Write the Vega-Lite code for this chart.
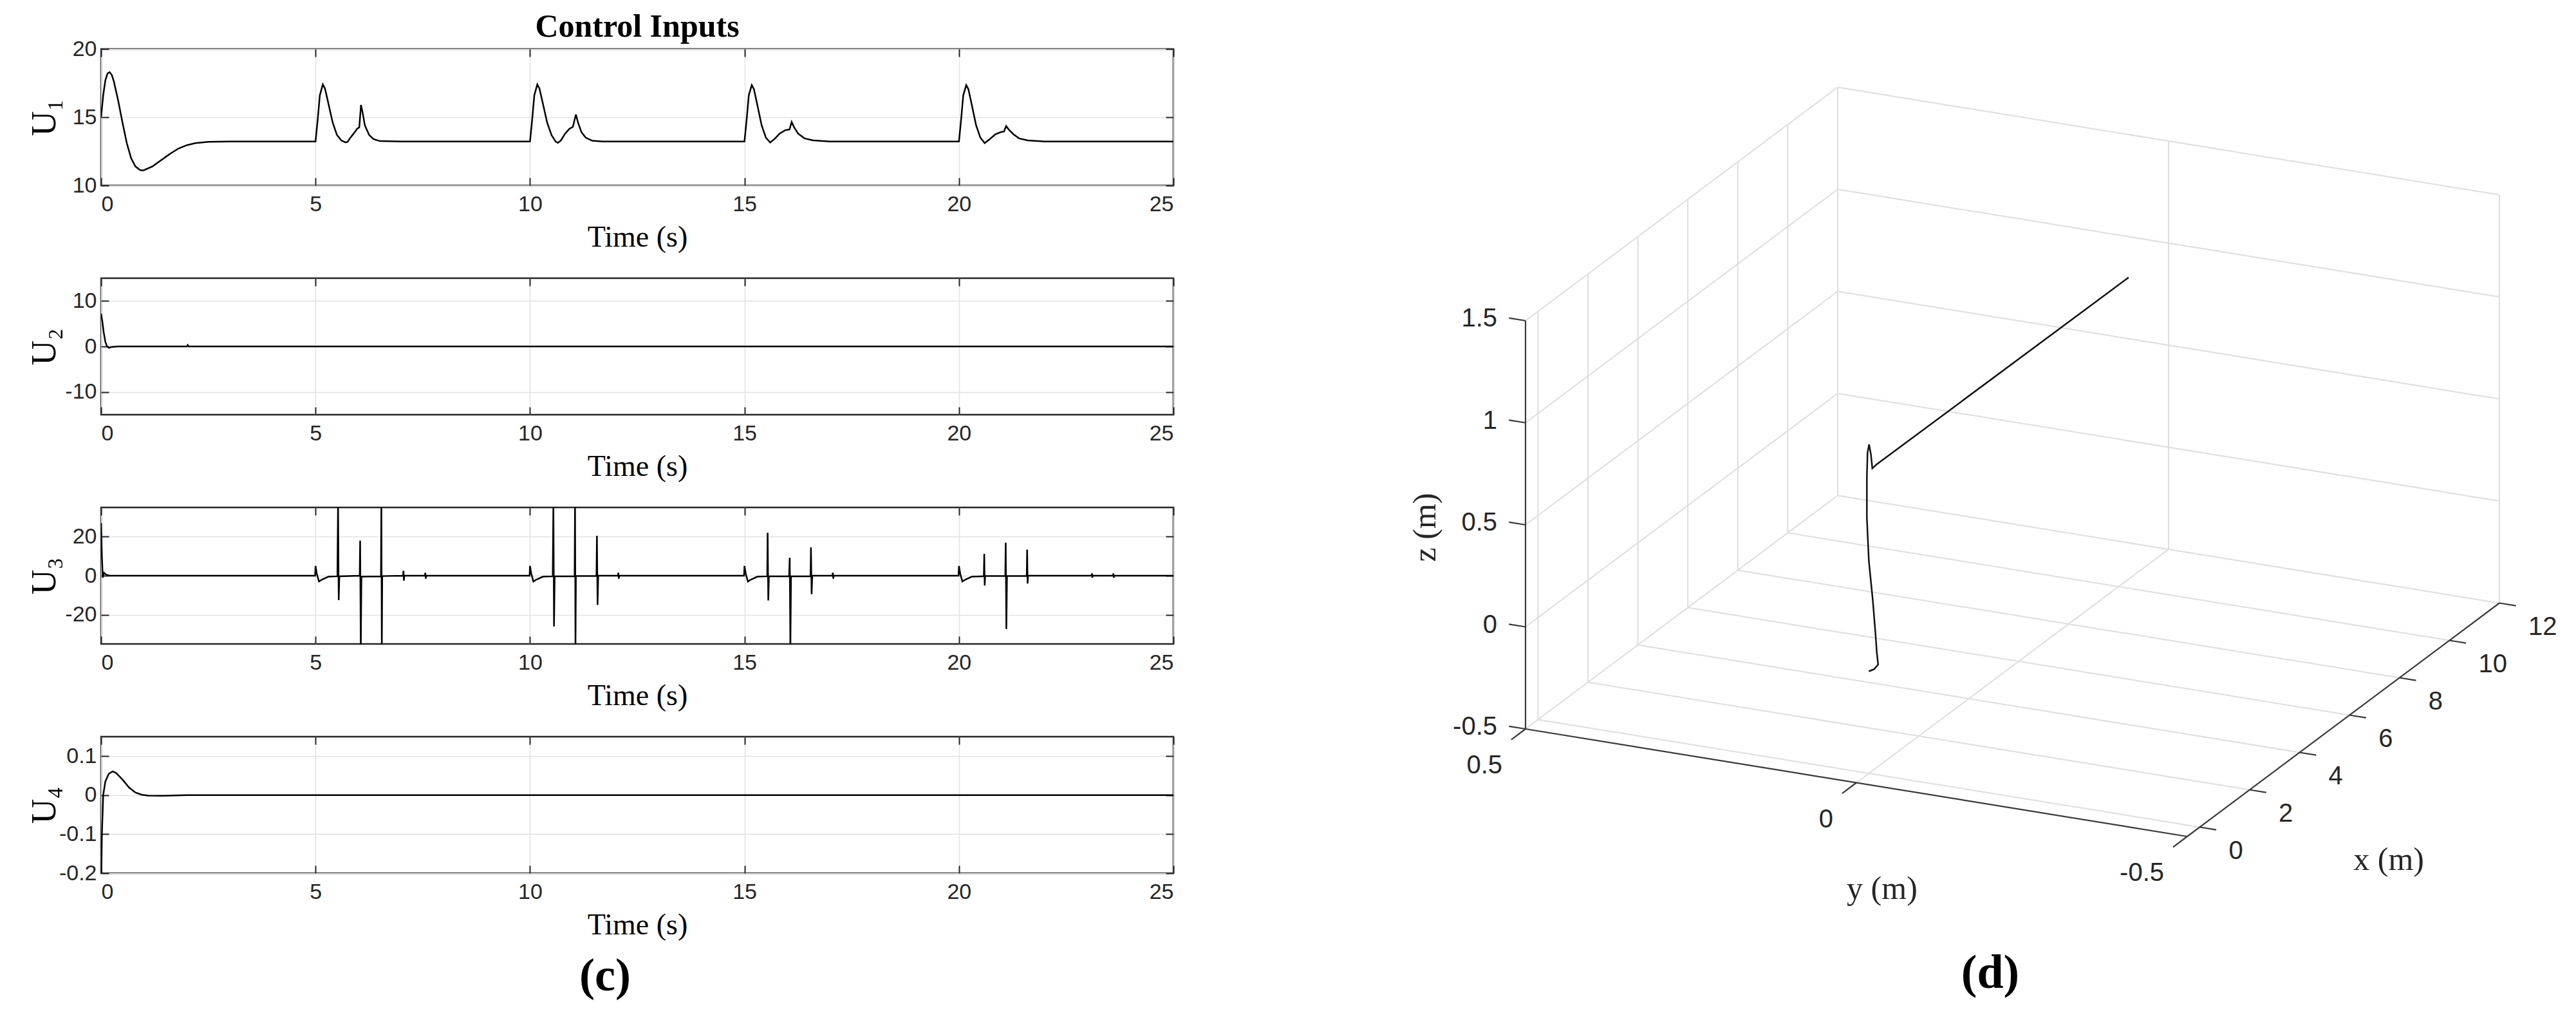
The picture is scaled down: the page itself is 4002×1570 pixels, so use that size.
{
  "$schema": "https://vega.github.io/schema/vega-lite/v6.json",
  "background": "white",
  "padding": {"left": 40, "top": 15, "right": 0, "bottom": 0},
  "config": {
    "font": "Liberation Sans",
    "view": {"stroke": "#262626", "strokeWidth": 2.5},
    "axis": {
      "domain": false,
      "labelFont": "Liberation Sans", "labelFontSize": 34, "labelColor": "#262626",
      "tickColor": "#262626", "tickSize": -12, "tickWidth": 2,
      "gridColor": "#e2e2e2", "gridWidth": 1.5,
      "titleFont": "Liberation Serif", "titleFontWeight": "normal", "titleColor": "#000000"
    },
    "axisX": {"labelPadding": 24, "titleFontSize": 46, "titlePadding": 12},
    "axisY": {"labelPadding": 19, "titleFontSize": 54, "titleX": -88, "titleY": 106, "titleBaseline": "middle", "labelExpr": "'' + datum.value"}
  },
  "datasets": {
    "u1": [
      {"t":0,"v":15.0},{"t":0.05,"v":16.6},{"t":0.1,"v":17.7},{"t":0.15,"v":18.2},{"t":0.2,"v":18.3},{"t":0.25,"v":18.1},{"t":0.3,"v":17.6},{"t":0.4,"v":16.2},{"t":0.5,"v":14.6},{"t":0.6,"v":13.1},{"t":0.7,"v":12.0},{"t":0.8,"v":11.4},{"t":0.9,"v":11.15},{"t":0.95,"v":11.1},{"t":1.0,"v":11.12},{"t":1.2,"v":11.4},{"t":1.4,"v":11.85},{"t":1.6,"v":12.3},{"t":1.8,"v":12.7},{"t":2.0,"v":12.95},{"t":2.2,"v":13.1},{"t":2.5,"v":13.2},{"t":3,"v":13.22},{"t":5,"v":13.22},
      {"t":5.05,"v":14.8},{"t":5.1,"v":16.6},{"t":5.17,"v":17.4},{"t":5.22,"v":17.1},{"t":5.3,"v":16.0},{"t":5.4,"v":14.6},{"t":5.5,"v":13.7},{"t":5.6,"v":13.3},{"t":5.7,"v":13.15},{"t":5.75,"v":13.2},{"t":5.8,"v":13.45},{"t":5.9,"v":13.85},{"t":5.97,"v":14.15},{"t":6.02,"v":14.25},{"t":6.06,"v":15.9},{"t":6.1,"v":15.3},{"t":6.15,"v":14.4},{"t":6.25,"v":13.7},{"t":6.35,"v":13.4},{"t":6.5,"v":13.25},{"t":7,"v":13.22},{"t":10,"v":13.22},
      {"t":10.05,"v":14.8},{"t":10.1,"v":16.6},{"t":10.17,"v":17.4},{"t":10.22,"v":17.1},{"t":10.3,"v":16.0},{"t":10.4,"v":14.6},{"t":10.5,"v":13.7},{"t":10.6,"v":13.2},{"t":10.65,"v":13.12},{"t":10.72,"v":13.3},{"t":10.82,"v":13.8},{"t":10.92,"v":14.15},{"t":11.0,"v":14.3},{"t":11.07,"v":15.2},{"t":11.12,"v":14.6},{"t":11.2,"v":13.9},{"t":11.3,"v":13.5},{"t":11.45,"v":13.28},{"t":11.7,"v":13.22},{"t":15,"v":13.22},
      {"t":15.05,"v":14.8},{"t":15.1,"v":16.6},{"t":15.17,"v":17.35},{"t":15.22,"v":17.05},{"t":15.3,"v":15.9},{"t":15.4,"v":14.4},{"t":15.5,"v":13.5},{"t":15.6,"v":13.15},{"t":15.7,"v":13.4},{"t":15.82,"v":13.8},{"t":15.95,"v":14.05},{"t":16.05,"v":14.1},{"t":16.1,"v":14.65},{"t":16.15,"v":14.3},{"t":16.25,"v":13.8},{"t":16.4,"v":13.45},{"t":16.6,"v":13.3},{"t":17,"v":13.22},{"t":20,"v":13.22},
      {"t":20.05,"v":14.8},{"t":20.1,"v":16.6},{"t":20.17,"v":17.35},{"t":20.22,"v":17.05},{"t":20.3,"v":15.9},{"t":20.4,"v":14.4},{"t":20.5,"v":13.5},{"t":20.6,"v":13.1},{"t":20.72,"v":13.4},{"t":20.85,"v":13.75},{"t":20.97,"v":13.9},{"t":21.05,"v":13.95},{"t":21.1,"v":14.35},{"t":21.16,"v":14.1},{"t":21.27,"v":13.75},{"t":21.4,"v":13.45},{"t":21.6,"v":13.3},{"t":22,"v":13.22},{"t":25,"v":13.22}
    ],
    "u2": [
      {"t":0,"v":7.2},{"t":0.03,"v":5.5},{"t":0.06,"v":3.2},{"t":0.1,"v":1.0},{"t":0.14,"v":0.0},{"t":0.18,"v":-0.3},{"t":0.25,"v":-0.1},{"t":0.4,"v":0},{"t":2.0,"v":0},{"t":2.02,"v":0.3},{"t":2.04,"v":0},{"t":25,"v":0}
    ],
    "u3": [
      {"t":0,"v":27},{"t":0.02,"v":10},{"t":0.04,"v":-1},{"t":0.07,"v":1.5},{"t":0.12,"v":0.5},{"t":0.2,"v":0},{"t":4.99,"v":0},
      {"t":5.0,"v":5},{"t":5.03,"v":1},{"t":5.08,"v":-3},{"t":5.15,"v":-2},{"t":5.3,"v":-0.5},{"t":5.51,"v":-0.3},{"t":5.525,"v":38},{"t":5.54,"v":-12.5},{"t":5.555,"v":-0.3},{"t":6.03,"v":0},{"t":6.04,"v":18},{"t":6.055,"v":-38},{"t":6.07,"v":-0.5},{"t":6.525,"v":-0.3},{"t":6.535,"v":38},{"t":6.545,"v":-38},{"t":6.555,"v":-0.2},{"t":7.04,"v":0},{"t":7.05,"v":2.5},{"t":7.06,"v":-2.5},{"t":7.07,"v":0},{"t":7.55,"v":0},{"t":7.56,"v":1.5},{"t":7.57,"v":-1.5},{"t":7.58,"v":0},{"t":9.99,"v":0},
      {"t":10.0,"v":5},{"t":10.03,"v":1},{"t":10.08,"v":-3},{"t":10.15,"v":-2},{"t":10.3,"v":-0.5},{"t":10.53,"v":-0.3},{"t":10.545,"v":38},{"t":10.56,"v":-26},{"t":10.575,"v":-0.3},{"t":11.04,"v":-0.3},{"t":11.05,"v":38},{"t":11.06,"v":-38},{"t":11.07,"v":-0.2},{"t":11.55,"v":-0.2},{"t":11.56,"v":20.5},{"t":11.575,"v":-15},{"t":11.59,"v":0},{"t":12.05,"v":0},{"t":12.06,"v":1.5},{"t":12.07,"v":-1.5},{"t":12.08,"v":0},{"t":14.99,"v":0},
      {"t":15.0,"v":5},{"t":15.03,"v":1},{"t":15.08,"v":-3},{"t":15.15,"v":-2},{"t":15.3,"v":-0.5},{"t":15.53,"v":-0.3},{"t":15.54,"v":22},{"t":15.555,"v":-12.7},{"t":15.57,"v":-0.3},{"t":16.04,"v":-0.3},{"t":16.055,"v":9.2},{"t":16.07,"v":-38},{"t":16.085,"v":-0.3},{"t":16.54,"v":-0.3},{"t":16.55,"v":14.5},{"t":16.565,"v":-9.5},{"t":16.58,"v":0},{"t":17.05,"v":0},{"t":17.06,"v":1.5},{"t":17.07,"v":-1.5},{"t":17.08,"v":0},{"t":19.99,"v":0},
      {"t":20.0,"v":5},{"t":20.03,"v":1},{"t":20.08,"v":-3},{"t":20.15,"v":-2},{"t":20.3,"v":-0.5},{"t":20.58,"v":-0.3},{"t":20.59,"v":11.2},{"t":20.6,"v":-5},{"t":20.61,"v":-0.2},{"t":21.08,"v":-0.2},{"t":21.09,"v":16.9},{"t":21.105,"v":-27.3},{"t":21.12,"v":-0.2},{"t":21.58,"v":-0.2},{"t":21.59,"v":13.4},{"t":21.6,"v":-4},{"t":21.61,"v":0},{"t":23.09,"v":0},{"t":23.1,"v":1.2},{"t":23.11,"v":-1},{"t":23.12,"v":0},{"t":23.59,"v":0},{"t":23.6,"v":1.2},{"t":23.61,"v":-1},{"t":23.62,"v":0},{"t":25,"v":0}
    ],
    "u4": [
      {"t":0,"v":-0.25},{"t":0.02,"v":-0.1},{"t":0.05,"v":0.0},{"t":0.1,"v":0.035},{"t":0.18,"v":0.055},{"t":0.27,"v":0.061},{"t":0.35,"v":0.057},{"t":0.5,"v":0.04},{"t":0.65,"v":0.02},{"t":0.8,"v":0.007},{"t":0.95,"v":0.001},{"t":1.1,"v":-0.001},{"t":1.4,"v":-0.0015},{"t":2,"v":0},{"t":25,"v":0}
    ],
    "grid3d": [
      {"xm":0,"ym":0.5,"zm":-0.5,"xm2":0,"ym2":-0.5,"zm2":-0.5},
      {"xm":2,"ym":0.5,"zm":-0.5,"xm2":2,"ym2":-0.5,"zm2":-0.5},
      {"xm":4,"ym":0.5,"zm":-0.5,"xm2":4,"ym2":-0.5,"zm2":-0.5},
      {"xm":6,"ym":0.5,"zm":-0.5,"xm2":6,"ym2":-0.5,"zm2":-0.5},
      {"xm":8,"ym":0.5,"zm":-0.5,"xm2":8,"ym2":-0.5,"zm2":-0.5},
      {"xm":10,"ym":0.5,"zm":-0.5,"xm2":10,"ym2":-0.5,"zm2":-0.5},
      {"xm":12,"ym":0.5,"zm":-0.5,"xm2":12,"ym2":-0.5,"zm2":-0.5},
      {"xm":-0.5,"ym":0,"zm":-0.5,"xm2":12,"ym2":0,"zm2":-0.5},
      {"xm":-0.5,"ym":0.5,"zm":-0.5,"xm2":12,"ym2":0.5,"zm2":-0.5},
      {"xm":0,"ym":0.5,"zm":-0.5,"xm2":0,"ym2":0.5,"zm2":1.5},
      {"xm":2,"ym":0.5,"zm":-0.5,"xm2":2,"ym2":0.5,"zm2":1.5},
      {"xm":4,"ym":0.5,"zm":-0.5,"xm2":4,"ym2":0.5,"zm2":1.5},
      {"xm":6,"ym":0.5,"zm":-0.5,"xm2":6,"ym2":0.5,"zm2":1.5},
      {"xm":8,"ym":0.5,"zm":-0.5,"xm2":8,"ym2":0.5,"zm2":1.5},
      {"xm":10,"ym":0.5,"zm":-0.5,"xm2":10,"ym2":0.5,"zm2":1.5},
      {"xm":12,"ym":0.5,"zm":-0.5,"xm2":12,"ym2":0.5,"zm2":1.5},
      {"xm":-0.5,"ym":0.5,"zm":0,"xm2":12,"ym2":0.5,"zm2":0},
      {"xm":-0.5,"ym":0.5,"zm":0.5,"xm2":12,"ym2":0.5,"zm2":0.5},
      {"xm":-0.5,"ym":0.5,"zm":1,"xm2":12,"ym2":0.5,"zm2":1},
      {"xm":-0.5,"ym":0.5,"zm":1.5,"xm2":12,"ym2":0.5,"zm2":1.5},
      {"xm":12,"ym":0,"zm":-0.5,"xm2":12,"ym2":0,"zm2":1.5},
      {"xm":12,"ym":-0.5,"zm":-0.5,"xm2":12,"ym2":-0.5,"zm2":1.5},
      {"xm":12,"ym":0.5,"zm":0,"xm2":12,"ym2":-0.5,"zm2":0},
      {"xm":12,"ym":0.5,"zm":0.5,"xm2":12,"ym2":-0.5,"zm2":0.5},
      {"xm":12,"ym":0.5,"zm":1,"xm2":12,"ym2":-0.5,"zm2":1},
      {"xm":12,"ym":0.5,"zm":1.5,"xm2":12,"ym2":-0.5,"zm2":1.5}
    ],
    "axes3d": [
      {"xm":-0.5,"ym":0.5,"zm":-0.5,"xm2":-0.5,"ym2":0.5,"zm2":1.5},
      {"xm":-0.5,"ym":0.5,"zm":-0.5,"xm2":-0.5,"ym2":-0.5,"zm2":-0.5},
      {"xm":-0.5,"ym":-0.5,"zm":-0.5,"xm2":12,"ym2":-0.5,"zm2":-0.5},
      {"xm":-0.5,"ym":0.5,"zm":-0.5,"xm2":-0.5,"ym2":0.525,"zm2":-0.5},
      {"xm":-0.5,"ym":0.5,"zm":0,"xm2":-0.5,"ym2":0.525,"zm2":0},
      {"xm":-0.5,"ym":0.5,"zm":0.5,"xm2":-0.5,"ym2":0.525,"zm2":0.5},
      {"xm":-0.5,"ym":0.5,"zm":1,"xm2":-0.5,"ym2":0.525,"zm2":1},
      {"xm":-0.5,"ym":0.5,"zm":1.5,"xm2":-0.5,"ym2":0.525,"zm2":1.5},
      {"xm":-0.5,"ym":0.5,"zm":-0.5,"xm2":-1.07,"ym2":0.5,"zm2":-0.5},
      {"xm":-0.5,"ym":0,"zm":-0.5,"xm2":-1.07,"ym2":0,"zm2":-0.5},
      {"xm":-0.5,"ym":-0.5,"zm":-0.5,"xm2":-1.07,"ym2":-0.5,"zm2":-0.5},
      {"xm":0,"ym":-0.5,"zm":-0.5,"xm2":0,"ym2":-0.525,"zm2":-0.5},
      {"xm":2,"ym":-0.5,"zm":-0.5,"xm2":2,"ym2":-0.525,"zm2":-0.5},
      {"xm":4,"ym":-0.5,"zm":-0.5,"xm2":4,"ym2":-0.525,"zm2":-0.5},
      {"xm":6,"ym":-0.5,"zm":-0.5,"xm2":6,"ym2":-0.525,"zm2":-0.5},
      {"xm":8,"ym":-0.5,"zm":-0.5,"xm2":8,"ym2":-0.525,"zm2":-0.5},
      {"xm":10,"ym":-0.5,"zm":-0.5,"xm2":10,"ym2":-0.525,"zm2":-0.5},
      {"xm":12,"ym":-0.5,"zm":-0.5,"xm2":12,"ym2":-0.525,"zm2":-0.5}
    ],
    "traj": [
      {"i":0,"xm":0,"ym":0,"zm":0},
      {"i":1,"xm":0,"ym":-0.008,"zm":0.015},
      {"i":2,"xm":0,"ym":-0.014,"zm":0.04},
      {"i":3,"xm":0,"ym":-0.012,"zm":0.1},
      {"i":4,"xm":0,"ym":-0.01,"zm":0.19},
      {"i":5,"xm":0,"ym":-0.006,"zm":0.35},
      {"i":6,"xm":0,"ym":0.0,"zm":0.54},
      {"i":7,"xm":0,"ym":0.003,"zm":0.75},
      {"i":8,"xm":0,"ym":0.003,"zm":0.95},
      {"i":9,"xm":0,"ym":0.002,"zm":1.07},
      {"i":10,"xm":0.01,"ym":0.0,"zm":1.11},
      {"i":11,"xm":0.03,"ym":-0.002,"zm":1.06},
      {"i":12,"xm":0.06,"ym":-0.003,"zm":0.99},
      {"i":13,"xm":0.3,"ym":0,"zm":0.985},
      {"i":14,"xm":10.4,"ym":0,"zm":0.978}
    ],
    "zlab": [
      {"xm":-0.5,"ym":0.5,"zm":-0.5,"txt":"-0.5"},
      {"xm":-0.5,"ym":0.5,"zm":0,"txt":"0"},
      {"xm":-0.5,"ym":0.5,"zm":0.5,"txt":"0.5"},
      {"xm":-0.5,"ym":0.5,"zm":1,"txt":"1"},
      {"xm":-0.5,"ym":0.5,"zm":1.5,"txt":"1.5"}
    ],
    "ylab": [
      {"xm":-0.5,"ym":0.5,"zm":-0.5,"txt":"0.5"},
      {"xm":-0.5,"ym":0,"zm":-0.5,"txt":"0"},
      {"xm":-0.5,"ym":-0.5,"zm":-0.5,"txt":"-0.5"}
    ],
    "xlab": [
      {"xm":0,"ym":-0.5,"zm":-0.5,"txt":"0"},
      {"xm":2,"ym":-0.5,"zm":-0.5,"txt":"2"},
      {"xm":4,"ym":-0.5,"zm":-0.5,"txt":"4"},
      {"xm":6,"ym":-0.5,"zm":-0.5,"txt":"6"},
      {"xm":8,"ym":-0.5,"zm":-0.5,"txt":"8"},
      {"xm":10,"ym":-0.5,"zm":-0.5,"txt":"10"},
      {"xm":12,"ym":-0.5,"zm":-0.5,"txt":"12"}
    ],
    "titles3d": [
      {"xm":0.53,"ym":0,"zm":-1.116,"txt":"y (m)"},
      {"xm":7.57,"ym":-0.5,"zm":-1.355,"txt":"x (m)"}
    ],
    "ztitle": [
      {"xm":-0.5,"ym":0.651,"zm":0.408,"txt":"z (m)"}
    ]
  },
  "hconcat": [
    {
      "bounds": "flush",
      "spacing": 144,
      "vconcat": [
        {
          "width": 1666, "height": 212,
          "title": {"text": "Control Inputs", "font": "Liberation Serif", "fontSize": 50, "fontWeight": "bold", "color": "#000000", "anchor": "middle", "offset": -8},
          "data": {"name": "u1"},
          "resolve": {"axis": {"x": "independent", "y": "independent"}},
          "layer": [
            {"mark": {"type": "line", "color": "#000000", "strokeWidth": 2.5, "clip": true},
             "encoding": {
               "x": {"field": "t", "type": "quantitative", "scale": {"domain": [0, 25], "nice": false}, "axis": {"values": [0,5,10,15,20,25], "title": "Time (s)"}},
               "y": {"field": "v", "type": "quantitative", "scale": {"domain": [10, 20], "nice": false, "zero": false}, "axis": {"values": [10,15,20], "title": "U₁"}}}},
            {"mark": {"type": "line", "strokeOpacity": 0, "clip": true},
             "encoding": {
               "x": {"field": "t", "type": "quantitative", "scale": {"domain": [0, 25], "nice": false}, "axis": {"orient": "top", "values": [0,5,10,15,20,25], "labels": false, "grid": false, "title": null}},
               "y": {"field": "v", "type": "quantitative", "scale": {"domain": [10, 20], "nice": false, "zero": false}, "axis": {"orient": "right", "values": [10,15,20], "labels": false, "grid": false, "title": null}}}}
          ]
        },
        {
          "width": 1666, "height": 212,
          "data": {"name": "u2"},
          "resolve": {"axis": {"x": "independent", "y": "independent"}},
          "layer": [
            {"mark": {"type": "line", "color": "#000000", "strokeWidth": 2.5, "clip": true},
             "encoding": {
               "x": {"field": "t", "type": "quantitative", "scale": {"domain": [0, 25], "nice": false}, "axis": {"values": [0,5,10,15,20,25], "title": "Time (s)"}},
               "y": {"field": "v", "type": "quantitative", "scale": {"domain": [-15, 15], "nice": false, "zero": false}, "axis": {"values": [-10,0,10], "title": "U₂"}}}},
            {"mark": {"type": "line", "strokeOpacity": 0, "clip": true},
             "encoding": {
               "x": {"field": "t", "type": "quantitative", "scale": {"domain": [0, 25], "nice": false}, "axis": {"orient": "top", "values": [0,5,10,15,20,25], "labels": false, "grid": false, "title": null}},
               "y": {"field": "v", "type": "quantitative", "scale": {"domain": [-15, 15], "nice": false, "zero": false}, "axis": {"orient": "right", "values": [-10,0,10], "labels": false, "grid": false, "title": null}}}}
          ]
        },
        {
          "width": 1666, "height": 212,
          "data": {"name": "u3"},
          "resolve": {"axis": {"x": "independent", "y": "independent"}},
          "layer": [
            {"mark": {"type": "line", "color": "#000000", "strokeWidth": 2.5, "clip": true},
             "encoding": {
               "x": {"field": "t", "type": "quantitative", "scale": {"domain": [0, 25], "nice": false}, "axis": {"values": [0,5,10,15,20,25], "title": "Time (s)"}},
               "y": {"field": "v", "type": "quantitative", "scale": {"domain": [-35, 35], "nice": false, "zero": false}, "axis": {"values": [-20,0,20], "title": "U₃"}}}},
            {"mark": {"type": "line", "strokeOpacity": 0, "clip": true},
             "encoding": {
               "x": {"field": "t", "type": "quantitative", "scale": {"domain": [0, 25], "nice": false}, "axis": {"orient": "top", "values": [0,5,10,15,20,25], "labels": false, "grid": false, "title": null}},
               "y": {"field": "v", "type": "quantitative", "scale": {"domain": [-35, 35], "nice": false, "zero": false}, "axis": {"orient": "right", "values": [-20,0,20], "labels": false, "grid": false, "title": null}}}}
          ]
        },
        {
          "width": 1666, "height": 212,
          "title": {"text": "(c)", "orient": "bottom", "font": "Liberation Serif", "fontSize": 72, "fontWeight": "bold", "color": "#000000", "anchor": "middle", "offset": 22, "dx": -50},
          "data": {"name": "u4"},
          "resolve": {"axis": {"x": "independent", "y": "independent"}},
          "layer": [
            {"mark": {"type": "line", "color": "#000000", "strokeWidth": 2.5, "clip": true},
             "encoding": {
               "x": {"field": "t", "type": "quantitative", "scale": {"domain": [0, 25], "nice": false}, "axis": {"values": [0,5,10,15,20,25], "title": "Time (s)"}},
               "y": {"field": "v", "type": "quantitative", "scale": {"domain": [-0.2, 0.15], "nice": false, "zero": false}, "axis": {"values": [-0.2,-0.1,0,0.1], "title": "U₄"}}}},
            {"mark": {"type": "line", "strokeOpacity": 0, "clip": true},
             "encoding": {
               "x": {"field": "t", "type": "quantitative", "scale": {"domain": [0, 25], "nice": false}, "axis": {"orient": "top", "values": [0,5,10,15,20,25], "labels": false, "grid": false, "title": null}},
               "y": {"field": "v", "type": "quantitative", "scale": {"domain": [-0.2, 0.15], "nice": false, "zero": false}, "axis": {"orient": "right", "values": [-0.2,-0.1,0,0.1], "labels": false, "grid": false, "title": null}}}}
          ]
        }
      ]
    },
    {
      "width": 1810, "height": 1380,
      "view": {"stroke": null},
      "title": {"text": "(d)", "orient": "bottom", "font": "Liberation Serif", "fontSize": 74, "fontWeight": "bold", "color": "#000000", "anchor": "middle", "offset": 20},
      "layer": [
        {
          "data": {"name": "grid3d"},
          "transform": [
            {"calculate": "38.8*(datum.xm+0.5)+1028*(0.5-datum.ym)", "as": "px"},
            {"calculate": "29*(datum.xm+0.5)-167*(0.5-datum.ym)+317*(datum.zm+0.5)", "as": "py"},
            {"calculate": "38.8*(datum.xm2+0.5)+1028*(0.5-datum.ym2)", "as": "px2"},
            {"calculate": "29*(datum.xm2+0.5)-167*(0.5-datum.ym2)+317*(datum.zm2+0.5)", "as": "py2"}
          ],
          "mark": {"type": "rule", "color": "#dedede", "strokeWidth": 2},
          "encoding": {
            "x": {"field": "px", "type": "quantitative", "scale": {"domain": [-183, 1627], "nice": false, "zero": false}, "axis": null},
            "y": {"field": "py", "type": "quantitative", "scale": {"domain": [-324, 1056], "nice": false, "zero": false}, "axis": null},
            "x2": {"field": "px2"},
            "y2": {"field": "py2"}
          }
        },
        {
          "data": {"name": "axes3d"},
          "transform": [
            {"calculate": "38.8*(datum.xm+0.5)+1028*(0.5-datum.ym)", "as": "px"},
            {"calculate": "29*(datum.xm+0.5)-167*(0.5-datum.ym)+317*(datum.zm+0.5)", "as": "py"},
            {"calculate": "38.8*(datum.xm2+0.5)+1028*(0.5-datum.ym2)", "as": "px2"},
            {"calculate": "29*(datum.xm2+0.5)-167*(0.5-datum.ym2)+317*(datum.zm2+0.5)", "as": "py2"}
          ],
          "mark": {"type": "rule", "color": "#3a3a3a", "strokeWidth": 2.2},
          "encoding": {
            "x": {"field": "px", "type": "quantitative", "scale": {"domain": [-183, 1627], "nice": false, "zero": false}, "axis": null},
            "y": {"field": "py", "type": "quantitative", "scale": {"domain": [-324, 1056], "nice": false, "zero": false}, "axis": null},
            "x2": {"field": "px2"},
            "y2": {"field": "py2"}
          }
        },
        {
          "data": {"name": "traj"},
          "transform": [
            {"calculate": "38.8*(datum.xm+0.5)+1028*(0.5-datum.ym)", "as": "px"},
            {"calculate": "29*(datum.xm+0.5)-167*(0.5-datum.ym)+317*(datum.zm+0.5)", "as": "py"}
          ],
          "mark": {"type": "line", "color": "#111111", "strokeWidth": 2.5},
          "encoding": {
            "x": {"field": "px", "type": "quantitative", "scale": {"domain": [-183, 1627], "nice": false, "zero": false}, "axis": null},
            "y": {"field": "py", "type": "quantitative", "scale": {"domain": [-324, 1056], "nice": false, "zero": false}, "axis": null},
            "order": {"field": "i", "type": "quantitative"}
          }
        },
        {
          "data": {"name": "zlab"},
          "transform": [
            {"calculate": "38.8*(datum.xm+0.5)+1028*(0.5-datum.ym)", "as": "px"},
            {"calculate": "29*(datum.xm+0.5)-167*(0.5-datum.ym)+317*(datum.zm+0.5)", "as": "py"}
          ],
          "mark": {"type": "text", "align": "right", "baseline": "middle", "dx": -44, "dy": -3, "font": "Liberation Sans", "fontSize": 40, "color": "#262626"},
          "encoding": {
            "x": {"field": "px", "type": "quantitative", "scale": {"domain": [-183, 1627], "nice": false, "zero": false}, "axis": null},
            "y": {"field": "py", "type": "quantitative", "scale": {"domain": [-324, 1056], "nice": false, "zero": false}, "axis": null},
            "text": {"field": "txt"}
          }
        },
        {
          "data": {"name": "ylab"},
          "transform": [
            {"calculate": "38.8*(datum.xm+0.5)+1028*(0.5-datum.ym)", "as": "px"},
            {"calculate": "29*(datum.xm+0.5)-167*(0.5-datum.ym)+317*(datum.zm+0.5)", "as": "py"}
          ],
          "mark": {"type": "text", "align": "right", "baseline": "middle", "dx": -36, "dy": 57, "font": "Liberation Sans", "fontSize": 40, "color": "#262626"},
          "encoding": {
            "x": {"field": "px", "type": "quantitative", "scale": {"domain": [-183, 1627], "nice": false, "zero": false}, "axis": null},
            "y": {"field": "py", "type": "quantitative", "scale": {"domain": [-324, 1056], "nice": false, "zero": false}, "axis": null},
            "text": {"field": "txt"}
          }
        },
        {
          "data": {"name": "xlab"},
          "transform": [
            {"calculate": "38.8*(datum.xm+0.5)+1028*(0.5-datum.ym)", "as": "px"},
            {"calculate": "29*(datum.xm+0.5)-167*(0.5-datum.ym)+317*(datum.zm+0.5)", "as": "py"}
          ],
          "mark": {"type": "text", "align": "left", "baseline": "middle", "dx": 45, "dy": 37, "font": "Liberation Sans", "fontSize": 40, "color": "#262626"},
          "encoding": {
            "x": {"field": "px", "type": "quantitative", "scale": {"domain": [-183, 1627], "nice": false, "zero": false}, "axis": null},
            "y": {"field": "py", "type": "quantitative", "scale": {"domain": [-324, 1056], "nice": false, "zero": false}, "axis": null},
            "text": {"field": "txt"}
          }
        },
        {
          "data": {"name": "titles3d"},
          "transform": [
            {"calculate": "38.8*(datum.xm+0.5)+1028*(0.5-datum.ym)", "as": "px"},
            {"calculate": "29*(datum.xm+0.5)-167*(0.5-datum.ym)+317*(datum.zm+0.5)", "as": "py"}
          ],
          "mark": {"type": "text", "align": "center", "baseline": "middle", "font": "Liberation Serif", "fontSize": 50, "color": "#262626"},
          "encoding": {
            "x": {"field": "px", "type": "quantitative", "scale": {"domain": [-183, 1627], "nice": false, "zero": false}, "axis": null},
            "y": {"field": "py", "type": "quantitative", "scale": {"domain": [-324, 1056], "nice": false, "zero": false}, "axis": null},
            "text": {"field": "txt"}
          }
        },
        {
          "data": {"name": "ztitle"},
          "transform": [
            {"calculate": "38.8*(datum.xm+0.5)+1028*(0.5-datum.ym)", "as": "px"},
            {"calculate": "29*(datum.xm+0.5)-167*(0.5-datum.ym)+317*(datum.zm+0.5)", "as": "py"}
          ],
          "mark": {"type": "text", "align": "center", "baseline": "middle", "angle": 270, "font": "Liberation Serif", "fontSize": 50, "color": "#262626"},
          "encoding": {
            "x": {"field": "px", "type": "quantitative", "scale": {"domain": [-183, 1627], "nice": false, "zero": false}, "axis": null},
            "y": {"field": "py", "type": "quantitative", "scale": {"domain": [-324, 1056], "nice": false, "zero": false}, "axis": null},
            "text": {"field": "txt"}
          }
        }
      ]
    }
  ],
  "bounds": "flush",
  "spacing": 2030
}
